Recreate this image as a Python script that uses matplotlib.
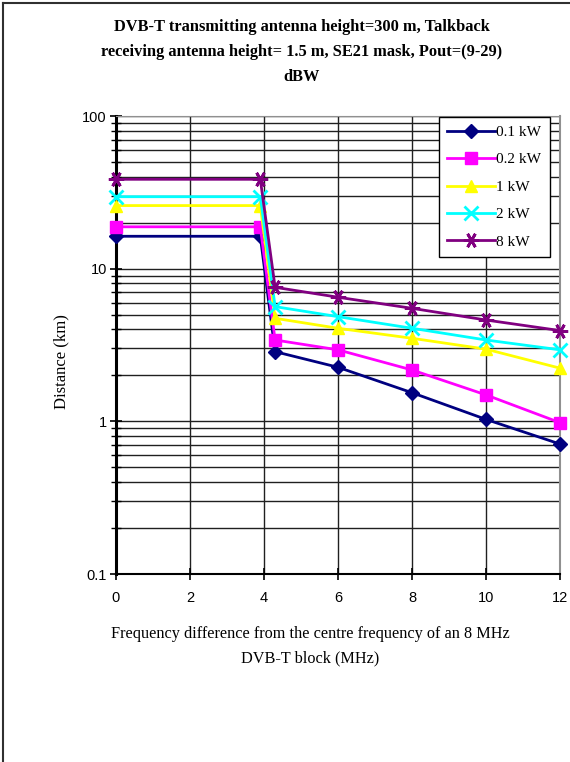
import matplotlib
matplotlib.use('Agg')
import matplotlib.pyplot as plt
from matplotlib.ticker import LogLocator, NullFormatter, FixedLocator
from matplotlib.lines import Line2D

# data
freq = [0, 3.9, 4.3, 6, 8, 10, 12]
d_01kw = [16.3, 16.3, 2.86, 2.26, 1.54, 1.03, 0.71]
d_02kw = [18.8, 18.8, 3.41, 2.94, 2.17, 1.49, 0.98]
d_1kw = [25.9, 25.9, 4.73, 4.07, 3.5, 2.97, 2.23]
d_2kw = [29.6, 29.6, 5.64, 4.85, 4.07, 3.41, 2.94]
d_8kw = [38.5, 38.5, 7.55, 6.5, 5.5, 4.61, 3.93]
labels = ['0.1 kW', '0.2 kW', '1 kW', '2 kW', '8 kW']
xticks = [0, 2, 4, 6, 8, 10, 12]

serif = 'Liberation Serif'
sans = 'Liberation Sans'

fig = plt.figure(figsize=(5.7, 7.62), dpi=100)
ax = fig.add_axes([116/570, 1-574/762, 444/570, 458/762])

series = [d_01kw, d_02kw, d_1kw, d_2kw, d_8kw]
colors = ['#000080', '#FF00FF', '#FFFF00', '#00FFFF', '#800080']
star = (6, 2, 30)
markers = ['D', 's', '^', 'x', star]
msizes = [7, 9, 9, 10, 11]
for y, c, m, ms, lab in zip(series, colors, markers, msizes, labels):
    ax.plot(freq, y, color=c, lw=2, marker=m, ms=ms,
            mew=2 if m in ('x', star) else 1,
            label=lab, clip_on=False, zorder=3)

ax.set_yscale('log')
ax.set_ylim(0.1, 100)
ax.set_xlim(0, 12)
ax.xaxis.set_major_locator(FixedLocator(xticks))
ax.set_xticklabels([str(t) for t in xticks], fontfamily=sans, fontsize=10.5)
ax.yaxis.set_major_locator(FixedLocator([0.1, 1, 10, 100]))
ax.set_yticklabels(['0.1', '1', '10', '100'], fontfamily=sans, fontsize=10.5)
ax.yaxis.set_minor_locator(LogLocator(base=10, subs=range(2, 10)))
ax.yaxis.set_minor_formatter(NullFormatter())

# gridlines (Excel style)
ax.grid(True, which='major', axis='both', color='#202020', lw=1)
ax.grid(True, which='minor', axis='y', color='#202020', lw=1)
ax.set_axisbelow(True)

ax.tick_params(axis='x', which='major', direction='inout', length=9, width=1.2, pad=8)
ax.tick_params(axis='y', which='major', direction='inout', length=9, width=1.2, pad=2)
ax.tick_params(axis='y', which='minor', direction='inout', length=7, width=1)
ax.spines['left'].set_linewidth(2.2)
ax.spines['bottom'].set_linewidth(1.5)
ax.spines['right'].set_color('#909090')
ax.spines['right'].set_linewidth(1.5)
ax.spines['top'].set_color('#909090')

fig.text(61/570, 1-362/762, 'Distance (km)', rotation=90, ha='center', va='center',
         fontfamily=serif, fontsize=12)
fig.text(310/570, 1-646/762,
         'Frequency difference from the centre frequency of an 8 MHz\nDVB-T block (MHz)',
         ha='center', va='center', fontfamily=serif, fontsize=11.7, linespacing=1.75)

fig.text(302/570, 1-52/762,
         'DVB-T transmitting antenna height=300 m, Talkback\n'
         'receiving antenna height= 1.5 m, SE21 mask, Pout=(9-29)\ndBW',
         ha='center', va='center', fontfamily=serif, fontsize=11.8,
         fontweight='bold', linespacing=1.72)

leg = ax.legend(loc='upper right', bbox_to_anchor=(0.977, 0.998),
                prop={'family': serif, 'size': 11}, fancybox=False,
                edgecolor='black', framealpha=1, handlelength=3.1,
                labelspacing=0.9, borderaxespad=0, handletextpad=0.1,
                borderpad=0.55)
leg.get_frame().set_linewidth(1)

# outer border: only the left and top edges show in the reference
fig.lines.append(Line2D([3/570, 3/570], [0, 1-3/762], transform=fig.transFigure,
                        color='#303030', lw=1.5))
fig.lines.append(Line2D([3/570, 1], [1-3/762, 1-3/762], transform=fig.transFigure,
                        color='#303030', lw=1.5))

fig.savefig('out.png', dpi=100)
